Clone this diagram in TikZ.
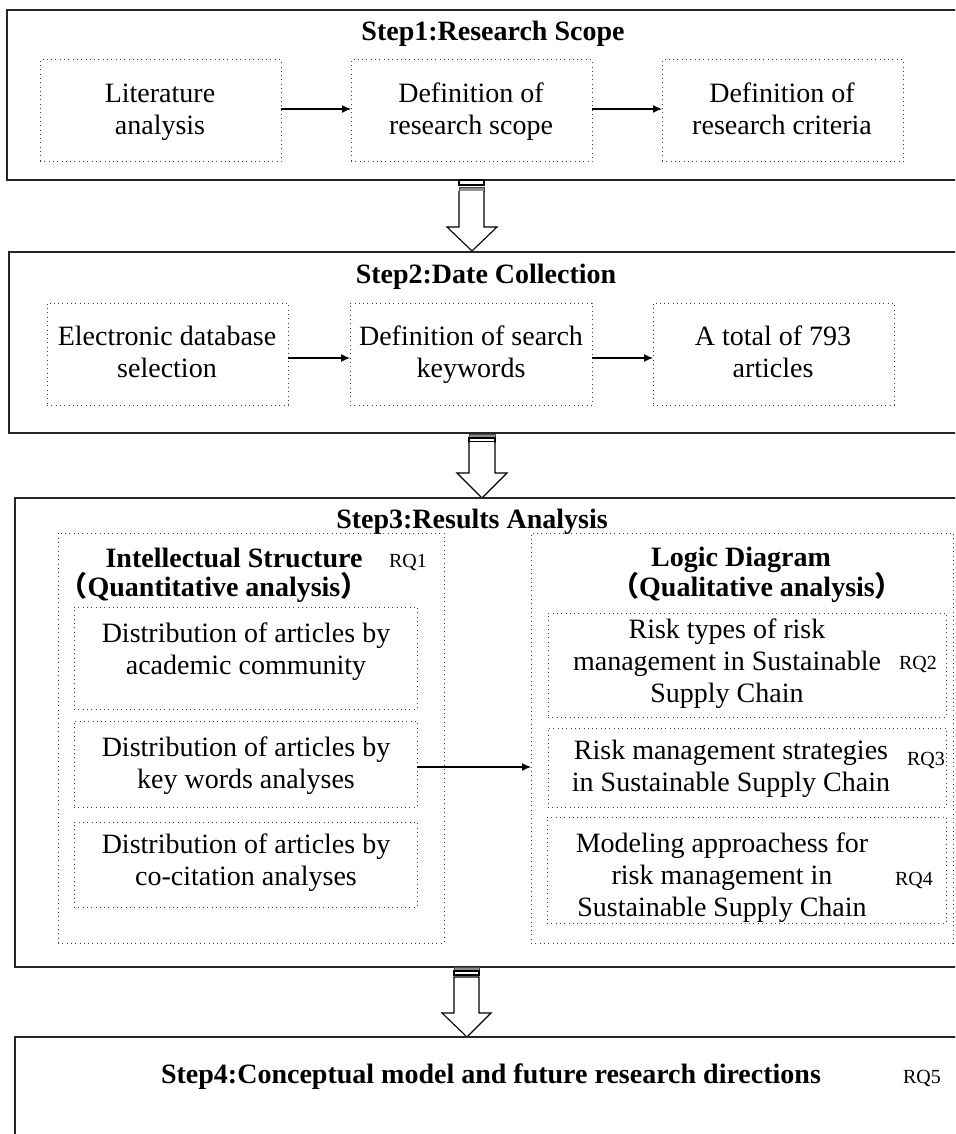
\documentclass[tikz,border=0pt]{standalone}
\usepackage{fontspec}
\setmainfont{Liberation Serif}
\newfontfamily\cjkfont{Noto Sans CJK SC}
\usetikzlibrary{fit,arrows.meta}

\tikzset{
  every node/.style={inner sep=0pt, outer sep=0pt},
  stepframe/.style={draw=black!85, line width=0.7pt, inner sep=0pt},
  dotbox/.style={draw=black!75, line width=0.5pt, dash pattern=on 0.5pt off 1.65pt, inner sep=0pt},
  body/.style={font=\fontsize{14}{16}\selectfont, align=center},
  head/.style={font=\fontsize{14}{16}\selectfont\bfseries, anchor=base},
  rq/.style={font=\fontsize{10}{12}\selectfont},
  flow/.style={-{Latex[length=4.5pt,width=4pt]}, line width=0.6pt},
  blockline/.style={draw=black, line width=0.55pt, fill=white},
  blockband/.style={draw=black!70, line width=0.4pt, fill=black!45},
}
\newcommand{\fwl}{{\cjkfont （}}
\newcommand{\fwr}{{\cjkfont ）}}

\begin{document}
\begin{tikzpicture}[x=0.5pt, y=-0.5pt]
\path[use as bounding box, clip] (0,0) rectangle (955,1134);
\fill[white] (0,0) rectangle (955,1134);

% ---------- Step 1 ----------
\node[stepframe, fit={(7,10) (975,180)}] (s1) {};
\node[head] (t1) at (493,41) {Step1:Research Scope};
\node[dotbox, fit={(40,60) (281,162)}] (b11) {};
\node[dotbox, fit={(351,60) (592,162)}] (b12) {};
\node[dotbox, fit={(662,60) (903,162)}] (b13) {};
\node[body] (b11t) at (160,112) {\strut Literature\\analysis\strut};
\node[body] (b12t) at (471,112) {\strut Definition of\\research scope\strut};
\node[body] (b13t) at (782,112) {\strut Definition of\\research criteria\strut};
\draw[flow] (b11.east |- 0,109) -- (b12.west |- 0,109);
\draw[flow] (b12.east |- 0,109) -- (b13.west |- 0,109);

% block arrow 1 -> 2
\draw[blockline] (459,180) rectangle (484,185);
\draw[blockband] (459,187) rectangle (484,191);
\draw[blockline] (459,191) -- (459,227) -- (447,227) -- (472,251) -- (497,227) -- (484,227) -- (484,191);

% ---------- Step 2 ----------
\node[stepframe, fit={(9,252) (975,433)}] (s2) {};
\node[head] (t2) at (486,283) {Step2:Date Collection};
\node[dotbox, fit={(47,303) (288,405)}] (b21) {};
\node[dotbox, fit={(350,303) (592,405)}] (b22) {};
\node[dotbox, fit={(653,303) (894,405)}] (b23) {};
\node[body] (b21t) at (167,355) {\strut Electronic database\\selection\strut};
\node[body] (b22t) at (471,355) {\strut Definition of search\\keywords\strut};
\node[body] (b23t) at (773,355) {\strut A total of 793\\articles\strut};
\draw[flow] (b21.east |- 0,358) -- (b22.west |- 0,358);
\draw[flow] (b22.east |- 0,358) -- (b23.west |- 0,358);

% block arrow 2 -> 3
\draw[blockband] (469,434) rectangle (495,437);
\draw[blockline] (469,438) rectangle (495,442);
\draw[blockline] (469,442) -- (469,473) -- (457,473) -- (482,498) -- (507,473) -- (495,473) -- (495,442);

% ---------- Step 3 ----------
\node[stepframe, fit={(15,498) (975,967)}] (s3) {};
\node[head] (t3) at (472,528) {Step3:Results Analysis};

% quantitative column
\node[dotbox, fit={(58,533) (444,943)}] (g1) {};
\node[head] (q1) at (234,567) {Intellectual Structure};
\node[rq, anchor=base west] (rq1) at (389,567) {RQ1};
\node[head] (q2) at (214,596) {\fwl Quantitative analysis\fwr};
\node[dotbox, fit={(74,607) (417,709)}] (a1) {};
\node[body] (a1t) at (246,652) {\strut Distribution of articles by\\academic community\strut};
\node[dotbox, fit={(74,721) (417,807)}] (a2) {};
\node[body] (a2t) at (246,766) {\strut Distribution of articles by\\key words analyses\strut};
\node[dotbox, fit={(74,822) (417,907)}] (a3) {};
\node[body] (a3t) at (246,863) {\strut Distribution of articles by\\co-citation analyses\strut};

% qualitative column
\node[dotbox, fit={(531,533) (953,943)}] (g2) {};
\node[head] (l1) at (741,566) {Logic Diagram};
\node[head] (l2) at (757,596) {\fwl Qualitative analysis\fwr};
\node[dotbox, fit={(548,613) (946,717)}] (r1) {};
\node[body] (r1t) at (727,664) {\strut Risk types of risk\\management in Sustainable\\Supply Chain\strut};
\node[rq] (rq2) at (918,664) {RQ2};
\node[dotbox, fit={(548,728) (946,807)}] (r2) {};
\node[body] (r2t) at (731,769) {\strut Risk management strategies\\in Sustainable Supply Chain\strut};
\node[rq] (rq3) at (926,760) {RQ3};
\node[dotbox, fit={(547,817) (946,923)}] (r3) {};
\node[body] (r3t) at (722,878) {\strut Modeling approachess for\\risk management in\\Sustainable Supply Chain\strut};
\node[rq] (rq4) at (914,880) {RQ4};

\draw[flow] (a2.east |- 0,767) -- (g2.west |- 0,767);

% block arrow 3 -> 4
\draw[blockband] (454,967) rectangle (479,970);
\draw[blockline] (454,971) rectangle (479,975);
\draw[blockline] (454,977) -- (454,1013) -- (442,1013) -- (467,1037) -- (491,1013) -- (479,1013) -- (479,977) -- cycle;

% ---------- Step 4 ----------
\node[stepframe, fit={(15,1037) (975,1160)}] (s4) {};
\node[head] (t4) at (491,1083) {Step4:Conceptual model and future research directions};
\node[rq, anchor=base west] (rq5) at (903,1083) {RQ5};
\end{tikzpicture}
\end{document}
